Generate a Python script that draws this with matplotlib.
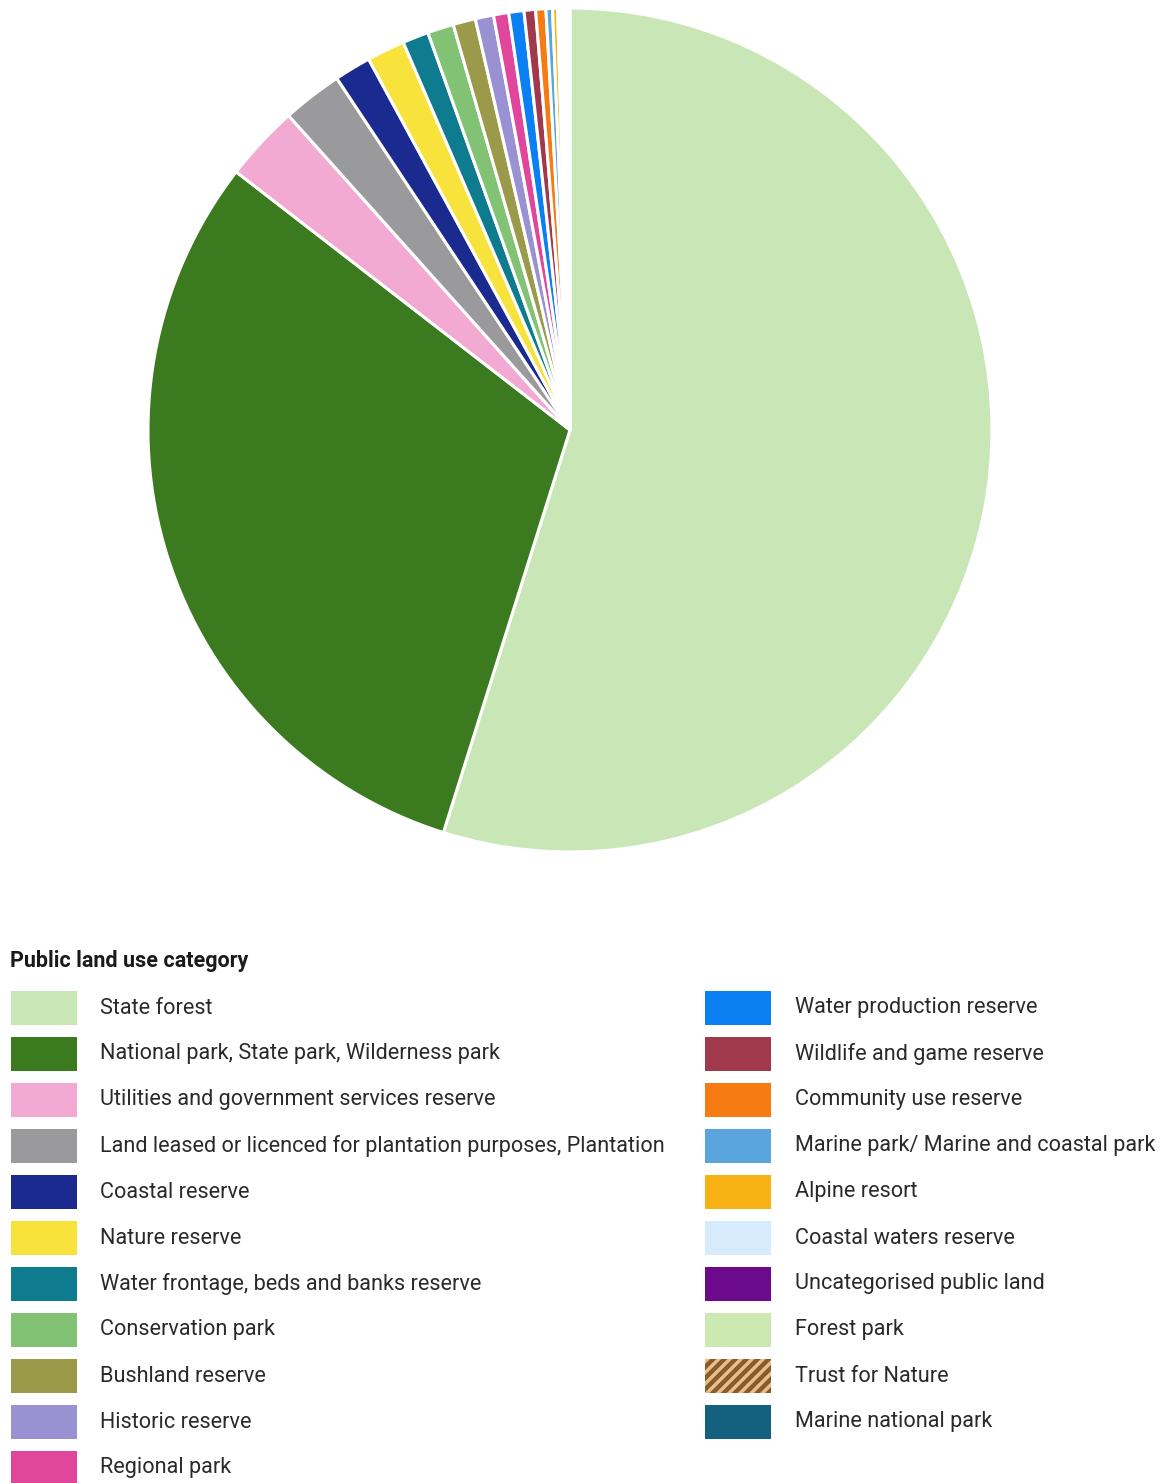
import matplotlib
matplotlib.use("Agg")
import matplotlib.pyplot as plt
from matplotlib.patches import Rectangle

plt.rcParams['font.family'] = ['Roboto', 'DejaVu Sans']
plt.rcParams['hatch.linewidth'] = 2.5

# share of public land, percent
categories = [
    "State forest",
    "National park, State park, Wilderness park",
    "Utilities and government services reserve",
    "Land leased or licenced for plantation purposes, Plantation",
    "Coastal reserve",
    "Nature reserve",
    "Water frontage, beds and banks reserve",
    "Conservation park",
    "Bushland reserve",
    "Historic reserve",
    "Regional park",
    "Water production reserve",
    "Wildlife and game reserve",
    "Community use reserve",
    "Marine park/ Marine and coastal park",
    "Alpine resort",
    "Coastal waters reserve",
    "Uncategorised public land",
    "Forest park",
    "Trust for Nature",
    "Marine national park",
]
shares = [54.8, 30.6, 2.9, 2.3, 1.4, 1.45, 1.0, 1.0, 0.86, 0.7, 0.58,
          0.58, 0.44, 0.39, 0.25, 0.19, 0.12, 0.1, 0.1, 0.05, 0.1]
colors = ["#c9e6b6", "#3b7a1f", "#f2a9d2", "#9a9a9c", "#1b2a8e", "#f8e23c",
          "#0f7b8e", "#82c274", "#9b9a4a", "#9a91d2", "#e0469c", "#0a80f2",
          "#a0394c", "#f67b12", "#5ba5de", "#f8b112", "#d6ebfb", "#6b0b8b",
          "#cde9b2", "#9a6a36", "#14617f"]
hatched = "Trust for Nature"

W, H = 1164, 1483
fig = plt.figure(figsize=(W / 100, H / 100), dpi=100)

# pie axes: centre (570, 430), radius ~422 px
cx, cy, r = 570, 430, 422
ax = fig.add_axes([(cx - r) / W, (H - cy - r) / H, 2 * r / W, 2 * r / H])
wedges, _ = ax.pie(shares, colors=colors, startangle=90, counterclock=False,
                   wedgeprops=dict(edgecolor="white", linewidth=2.2))
for w, name in zip(wedges, categories):
    if name == hatched:
        w.set_hatch("////")
ax.set_aspect("equal")
ax.set_xlim(-1, 1)
ax.set_ylim(-1, 1)
ax.axis("off")

# legend, drawn by hand to match the two-column layout
fig.text(10 / W, 1 - 961 / H, "Public land use category", fontsize=15.5,
         fontweight="bold", va="center", ha="left", color="#1a1a1a")
n_left = 11
for i, (name, col) in enumerate(zip(categories, colors)):
    row = i if i < n_left else i - n_left
    sx, tx = (11, 100) if i < n_left else (705, 795)
    yc = 1008 + 46 * row
    if name == hatched:
        rect = Rectangle((sx / W, 1 - (yc + 17) / H), 66 / W, 34 / H,
                         facecolor="#8a5a2c", edgecolor="#e6c08a",
                         hatch="///", linewidth=0, transform=fig.transFigure)
    else:
        rect = Rectangle((sx / W, 1 - (yc + 17) / H), 66 / W, 34 / H,
                         facecolor=col, edgecolor="none",
                         transform=fig.transFigure)
    fig.add_artist(rect)
    fig.text(tx / W, 1 - yc / H, name, fontsize=15.6, va="center", ha="left",
             color="#2a2a2a")

fig.savefig("out.png", dpi=100, facecolor="white")
